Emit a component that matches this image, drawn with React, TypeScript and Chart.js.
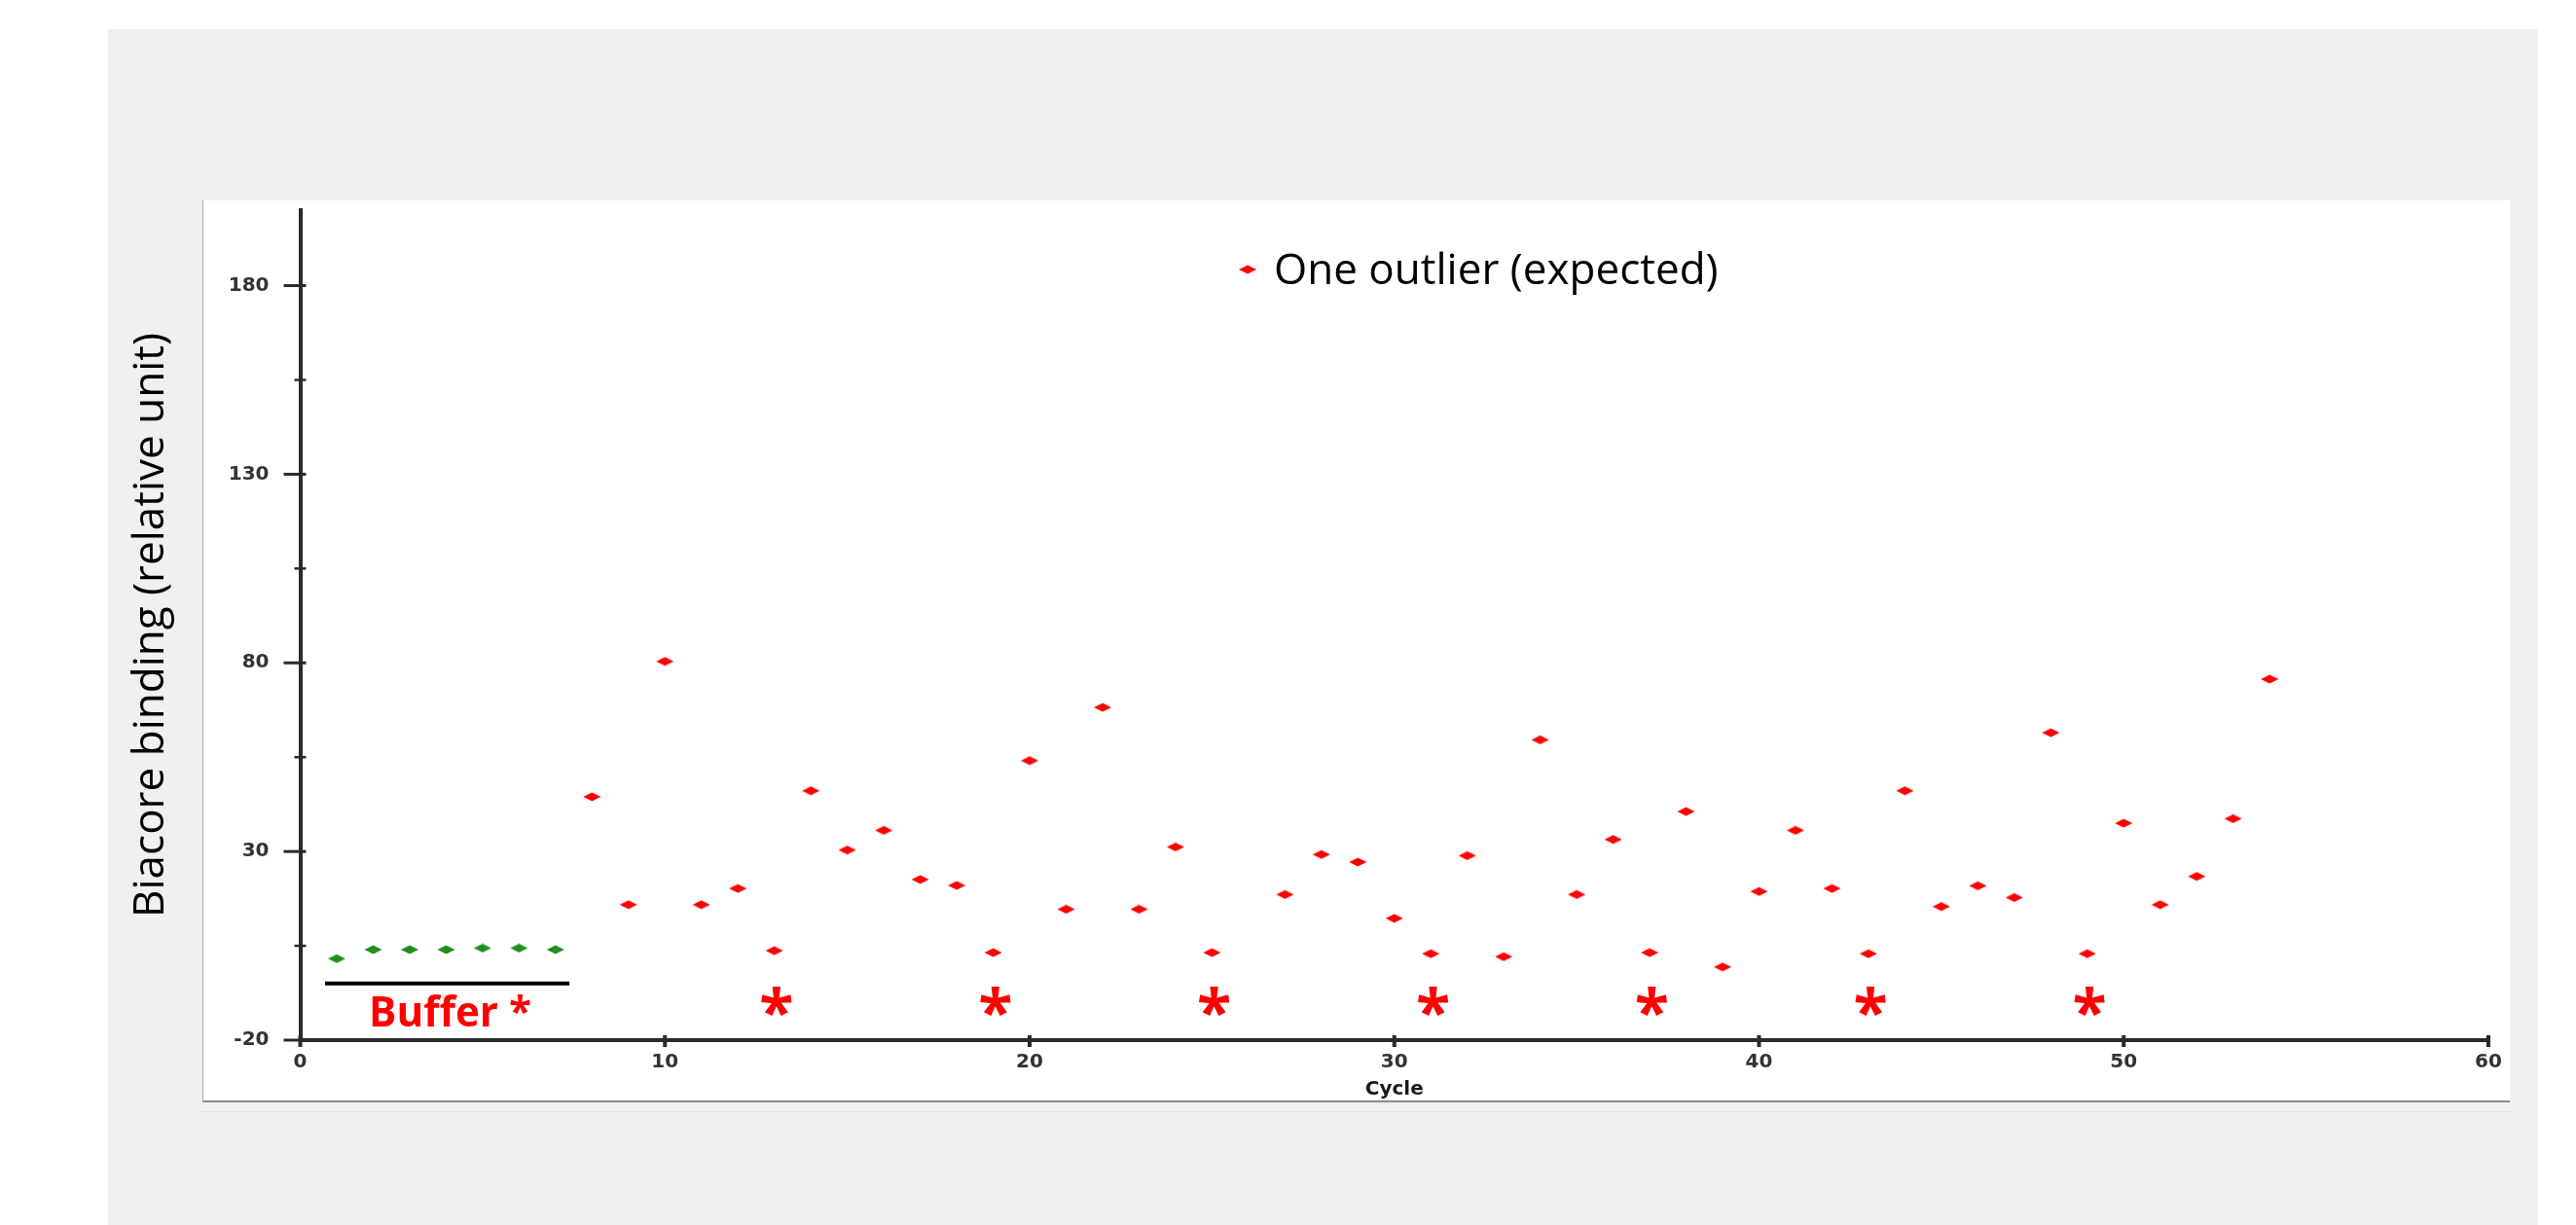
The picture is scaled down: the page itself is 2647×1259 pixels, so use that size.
import React, { useEffect, useRef } from 'react';
import { Chart, registerables } from 'chart.js';

Chart.register(...registerables);

// ---------- data ----------
const BUFFER_CYCLES = [1, 2, 3, 4, 5, 6, 7];
const BUFFER_VALUES = [1.6, 4.0, 4.0, 4.0, 4.4, 4.4, 4.0];

const SAMPLE_CYCLES = [
  8, 9, 10, 11, 12, 13, 14, 15, 16, 17, 18, 19, 20, 21, 22, 23, 24, 25,
  27, 28, 29, 30, 31, 32, 33, 34, 35, 36, 37, 38, 39, 40, 41, 42, 43, 44,
  45, 46, 47, 48, 49, 50, 51, 52, 53, 54,
];
const SAMPLE_VALUES = [
  44.5, 15.9, 80.4, 15.9, 20.2, 3.7, 46.1, 30.4, 35.6, 22.6, 21.0, 3.2, 54.1, 14.7, 68.2, 14.7, 31.2, 3.2,
  18.6, 29.2, 27.2, 12.3, 2.9, 28.9, 2.1, 59.6, 18.6, 33.2, 3.2, 40.6, -0.6, 19.4, 35.6, 20.2, 2.9, 46.1,
  15.4, 20.9, 17.8, 61.5, 2.9, 37.5, 15.9, 23.4, 38.7, 75.7,
];

const OUTLIER_CYCLES = [13, 19, 25, 31, 37, 43, 49];

const X_RANGE = [0, 60];
const Y_RANGE = [-20, 200];
const X_TICKS = [0, 10, 20, 30, 40, 50, 60];
const Y_TICKS = [-20, 30, 80, 130, 180];
const Y_MINOR_TICKS = [5, 55, 105, 155];

const X_TITLE = 'Cycle';
const Y_TITLE = 'Biacore binding (relative unit)';
const LEGEND_LABEL = 'One outlier (expected)';
const BUFFER_LABEL = 'Buffer *';
const BUFFER_SPAN = [0.68, 7.38];
const BUFFER_LINE_Y = -5;
const BUFFER_LABEL_Y = -12.4;
const ASTERISK_Y = -9.7;

// ---------- helpers ----------
function makeDiamond(color: string) {
  const c = document.createElement('canvas');
  c.width = 19;
  c.height = 10;
  const g = c.getContext('2d')!;
  g.fillStyle = color;
  g.beginPath();
  g.moveTo(0.5, 5);
  g.lineTo(9.5, 0.6);
  g.lineTo(18.5, 5);
  g.lineTo(9.5, 9.4);
  g.closePath();
  g.fill();
  return c;
}

const RED = '#ff0000';
const GREEN = '#1f8f1f';
const AXIS = '#2a2a2a';
const CALIBRI_LIKE = '"Open Sans", "Noto Sans", sans-serif';
const TICK_FONT = { family: '"DejaVu Sans", sans-serif', size: 20, weight: 'bold' as const };

export default function App() {
  const canvasRef = useRef<HTMLCanvasElement | null>(null);

  useEffect(() => {
    const canvas = canvasRef.current;
    if (!canvas) return;
    const redDiamond = makeDiamond(RED);
    const greenDiamond = makeDiamond(GREEN);

    const overlay = {
      id: 'overlay',
      beforeDatasetsDraw(chart: any) {
        const { ctx, chartArea: ca, scales } = chart;
        const xs = scales.x;
        const ys = scales.y;
        ctx.save();
        ctx.strokeStyle = AXIS;
        ctx.lineCap = 'butt';
        ctx.lineWidth = 3;
        for (const v of Y_TICKS) {
          const py = ys.getPixelForValue(v);
          ctx.beginPath();
          ctx.moveTo(ca.left - 17, py);
          ctx.lineTo(ca.left + 6, py);
          ctx.stroke();
        }
        ctx.lineWidth = 2.5;
        for (const v of Y_MINOR_TICKS) {
          const py = ys.getPixelForValue(v);
          ctx.beginPath();
          ctx.moveTo(ca.left - 6, py);
          ctx.lineTo(ca.left + 6, py);
          ctx.stroke();
        }
        ctx.lineWidth = 4;
        for (const v of X_TICKS) {
          const px = xs.getPixelForValue(v);
          ctx.beginPath();
          ctx.moveTo(px, ca.bottom - 5);
          ctx.lineTo(px, ca.bottom + 7);
          ctx.stroke();
        }
        ctx.restore();
      },
      afterDatasetsDraw(chart: any) {
        const { ctx, chartArea: ca, scales } = chart;
        const xs = scales.x;
        const ys = scales.y;
        ctx.save();

        // legend (inside plot area)
        const mx = ca.left + 973.5;
        const my = ca.top + 61;
        ctx.drawImage(redDiamond, mx - redDiamond.width / 2, my - redDiamond.height / 2);
        ctx.fillStyle = '#000';
        ctx.font = `44px ${CALIBRI_LIKE}`;
        ctx.textAlign = 'left';
        ctx.textBaseline = 'alphabetic';
        ctx.fillText(LEGEND_LABEL, ca.left + 1000.5, ca.top + 76);

        // "Buffer *" label
        ctx.fillStyle = RED;
        ctx.font = `bold 100px ${CALIBRI_LIKE}`;
        const w100 = ctx.measureText(BUFFER_LABEL).width;
        const bSize = (100 * 167) / w100;
        ctx.font = `bold ${bSize}px ${CALIBRI_LIKE}`;
        const capH = ctx.measureText('B').actualBoundingBoxAscent;
        const bx = xs.getPixelForValue((BUFFER_SPAN[0] + BUFFER_SPAN[1]) / 2) + 3;
        const by = ys.getPixelForValue(BUFFER_LABEL_Y) + capH / 2;
        ctx.textAlign = 'center';
        ctx.fillText(BUFFER_LABEL, bx, by);

        // outlier asterisks
        ctx.font = `bold 100px ${CALIBRI_LIKE}`;
        let m = ctx.measureText('*');
        const h100 = m.actualBoundingBoxAscent + m.actualBoundingBoxDescent;
        const aSize = (100 * 31) / h100;
        ctx.font = `bold ${aSize}px ${CALIBRI_LIKE}`;
        m = ctx.measureText('*');
        for (const c of OUTLIER_CYCLES) {
          const px = xs.getPixelForValue(c + 0.06);
          const cy = ys.getPixelForValue(ASTERISK_Y);
          const baseY = cy + (m.actualBoundingBoxAscent - m.actualBoundingBoxDescent) / 2;
          ctx.fillText('*', px, baseY);
        }
        ctx.restore();
      },
    };

    const chart = new Chart(canvas, {
      type: 'scatter',
      data: {
        datasets: [
          {
            label: LEGEND_LABEL,
            data: SAMPLE_CYCLES.map((c, i) => ({ x: c, y: SAMPLE_VALUES[i] })),
            pointStyle: redDiamond as any,
            backgroundColor: RED,
            borderColor: RED,
          },
          {
            label: 'Buffer',
            data: BUFFER_CYCLES.map((c, i) => ({ x: c, y: BUFFER_VALUES[i] })),
            pointStyle: greenDiamond as any,
            backgroundColor: GREEN,
            borderColor: GREEN,
          },
          {
            label: 'Buffer range',
            data: [
              { x: BUFFER_SPAN[0], y: BUFFER_LINE_Y },
              { x: BUFFER_SPAN[1], y: BUFFER_LINE_Y },
            ],
            showLine: true,
            borderColor: '#000',
            borderWidth: 4,
            pointRadius: 0,
            pointHoverRadius: 0,
          } as any,
        ],
      },
      options: {
        responsive: false,
        animation: false,
        events: [],
        layout: { padding: { left: 129, top: 216, right: 90, bottom: 127 } },
        plugins: {
          legend: { display: false },
          tooltip: { enabled: false },
          title: { display: false },
        },
        scales: {
          x: {
            type: 'linear',
            min: X_RANGE[0],
            max: X_RANGE[1],
            afterBuildTicks: (s: any) => {
              s.ticks = X_TICKS.map((v) => ({ value: v }));
            },
            afterFit: (s: any) => {
              s.height = 63;
            },
            grid: { display: true, drawOnChartArea: false, drawTicks: false },
            border: { display: true, color: AXIS, width: 4 },
            ticks: { font: TICK_FONT, color: '#333', padding: 11, maxRotation: 0, autoSkip: false },
            title: {
              display: true,
              text: X_TITLE,
              color: '#1a1a1a',
              font: TICK_FONT,
              padding: { top: 0, bottom: 0 },
            },
          },
          y: {
            type: 'linear',
            min: Y_RANGE[0],
            max: Y_RANGE[1],
            afterBuildTicks: (s: any) => {
              s.ticks = Y_TICKS.map((v) => ({ value: v }));
            },
            afterFit: (s: any) => {
              s.width = 179.5;
            },
            grid: { display: true, drawOnChartArea: false, drawTicks: false },
            border: { display: true, color: AXIS, width: 4 },
            ticks: { font: TICK_FONT, color: '#333', padding: 32, autoSkip: false },
            title: {
              display: true,
              text: Y_TITLE,
              color: '#000',
              font: { family: CALIBRI_LIKE, size: 44, weight: 'normal' },
              padding: { top: 0, bottom: 0 },
            },
          },
        },
      },
      plugins: [overlay],
    } as any);

    return () => chart.destroy();
  }, []);

  return (
    <div
      style={{
        position: 'fixed',
        left: 0,
        top: 0,
        width: 2647,
        height: 1259,
        background: '#ffffff',
        overflow: 'hidden',
      }}
    >
      <div style={{ position: 'absolute', left: 111, top: 30, width: 2497, height: 1229, background: '#f0f0f0' }} />
      <div
        style={{
          position: 'absolute',
          left: 208,
          top: 206,
          width: 2371,
          height: 927,
          background: '#ffffff',
          borderLeft: '1px solid #a8a8a8',
          borderBottom: '2px solid #8c8c8c',
          boxSizing: 'border-box',
        }}
      />
      <div style={{ position: 'absolute', left: 208, top: 1142, width: 2371, height: 1, background: '#d4e4f4' }} />
      <canvas
        ref={canvasRef}
        width={2647}
        height={1259}
        style={{ position: 'absolute', left: 0, top: 0, width: 2647, height: 1259 }}
      />
    </div>
  );
}
